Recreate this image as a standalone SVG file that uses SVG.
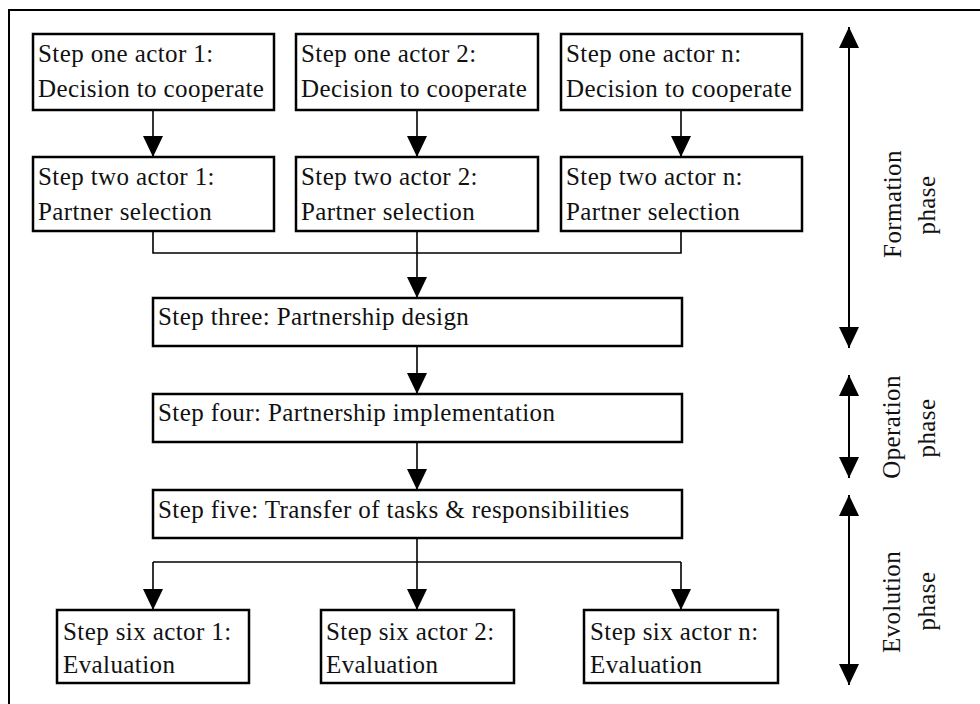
<svg xmlns="http://www.w3.org/2000/svg" width="980" height="704" viewBox="0 0 980 704">
  <style>
    .box { fill: #fff; stroke: #000; stroke-width: 2.5; }
    text { font-family: 'Liberation Serif', 'DejaVu Serif', 'Times New Roman', serif; font-size: 25px; letter-spacing: 0.4px; fill: #111; }
    .phase { text-anchor: middle; }
    .wire { fill: none; stroke: #000; stroke-width: 1.6; }
    .arrow { fill: none; stroke: #000; stroke-width: 1.6; marker-end: url(#head); }
    .span { fill: none; stroke: #000; stroke-width: 2; marker-start: url(#head); marker-end: url(#head); }
  </style>
  <defs>
    <marker id="head" markerUnits="userSpaceOnUse" markerWidth="21" markerHeight="20" refX="21" refY="10" orient="auto-start-reverse" viewBox="0 0 21 20">
      <path d="M0,0 L21,10 L0,20 z" fill="#000"/>
    </marker>
  </defs>

  <rect width="980" height="704" fill="#fff"/>
  <!-- outer frame (continues past the right and bottom edges) -->
  <path d="M9,704 V10 H980" fill="none" stroke="#000" stroke-width="2"/>

  <g id="connectors">
    <line class="arrow" x1="153" y1="110" x2="153" y2="157"/>
    <line class="arrow" x1="417" y1="110" x2="417" y2="157"/>
    <line class="arrow" x1="681" y1="110" x2="681" y2="157"/>
    <polyline class="wire" points="153,231 153,253 681,253 681,231"/>
    <line class="wire" x1="417" y1="231" x2="417" y2="253"/>
    <line class="arrow" x1="417" y1="253" x2="417" y2="298"/>
    <line class="arrow" x1="417" y1="346" x2="417" y2="394"/>
    <line class="arrow" x1="417" y1="442" x2="417" y2="490"/>
    <line class="arrow" x1="417" y1="538" x2="417" y2="610"/>
    <line class="wire" x1="153" y1="562" x2="681" y2="562"/>
    <line class="arrow" x1="153" y1="562" x2="153" y2="610"/>
    <line class="arrow" x1="681" y1="562" x2="681" y2="610"/>
  </g>

  <g font-family="Liberation Serif, DejaVu Serif, serif">
  <g id="step1-actor1">
    <rect class="box" x="33" y="34" width="241" height="76"/>
    <text x="38" y="62">Step one actor 1:</text>
    <text x="38" y="97">Decision to cooperate</text>
  </g>
  <g id="step1-actor2">
    <rect class="box" x="296" y="34" width="242" height="76"/>
    <text x="301" y="62">Step one actor 2:</text>
    <text x="301" y="97">Decision to cooperate</text>
  </g>
  <g id="step1-actorn">
    <rect class="box" x="561" y="34" width="241" height="76"/>
    <text x="566" y="62">Step one actor n:</text>
    <text x="566" y="97">Decision to cooperate</text>
  </g>

  <g id="step2-actor1">
    <rect class="box" x="33" y="157" width="241" height="74"/>
    <text x="38" y="185">Step two actor 1:</text>
    <text x="38" y="220">Partner selection</text>
  </g>
  <g id="step2-actor2">
    <rect class="box" x="296" y="157" width="242" height="74"/>
    <text x="301" y="185">Step two actor 2:</text>
    <text x="301" y="220">Partner selection</text>
  </g>
  <g id="step2-actorn">
    <rect class="box" x="561" y="157" width="241" height="74"/>
    <text x="566" y="185">Step two actor n:</text>
    <text x="566" y="220">Partner selection</text>
  </g>

  <g id="step3">
    <rect class="box" x="153" y="298" width="529" height="48"/>
    <text x="158" y="325">Step three: Partnership design</text>
  </g>
  <g id="step4">
    <rect class="box" x="153" y="394" width="529" height="48"/>
    <text x="158" y="421">Step four: Partnership implementation</text>
  </g>
  <g id="step5">
    <rect class="box" x="153" y="490" width="529" height="48"/>
    <text x="158" y="518">Step five: Transfer of tasks &amp; responsibilities</text>
  </g>

  <g id="step6-actor1">
    <rect class="box" x="57" y="610" width="192" height="73"/>
    <text x="63" y="640">Step six actor 1:</text>
    <text x="63" y="673">Evaluation</text>
  </g>
  <g id="step6-actor2">
    <rect class="box" x="321" y="610" width="193" height="73"/>
    <text x="326" y="640">Step six actor 2:</text>
    <text x="326" y="673">Evaluation</text>
  </g>
  <g id="step6-actorn">
    <rect class="box" x="584" y="610" width="194" height="73"/>
    <text x="590" y="640">Step six actor n:</text>
    <text x="590" y="673">Evaluation</text>
  </g>

  <g id="formation-phase">
    <line class="span" x1="849" y1="27" x2="849" y2="348"/>
    <text class="phase" transform="translate(901,204) rotate(-90)">Formation</text>
    <text class="phase" transform="translate(935,205) rotate(-90)">phase</text>
  </g>
  <g id="operation-phase">
    <line class="span" x1="849" y1="375" x2="849" y2="478"/>
    <text class="phase" transform="translate(900,427) rotate(-90)">Operation</text>
    <text class="phase" transform="translate(935,428) rotate(-90)">phase</text>
  </g>
  <g id="evolution-phase">
    <line class="span" x1="849" y1="495" x2="849" y2="685"/>
    <text class="phase" transform="translate(900,602) rotate(-90)">Evolution</text>
    <text class="phase" transform="translate(935,601) rotate(-90)">phase</text>
  </g>
  </g>
</svg>
